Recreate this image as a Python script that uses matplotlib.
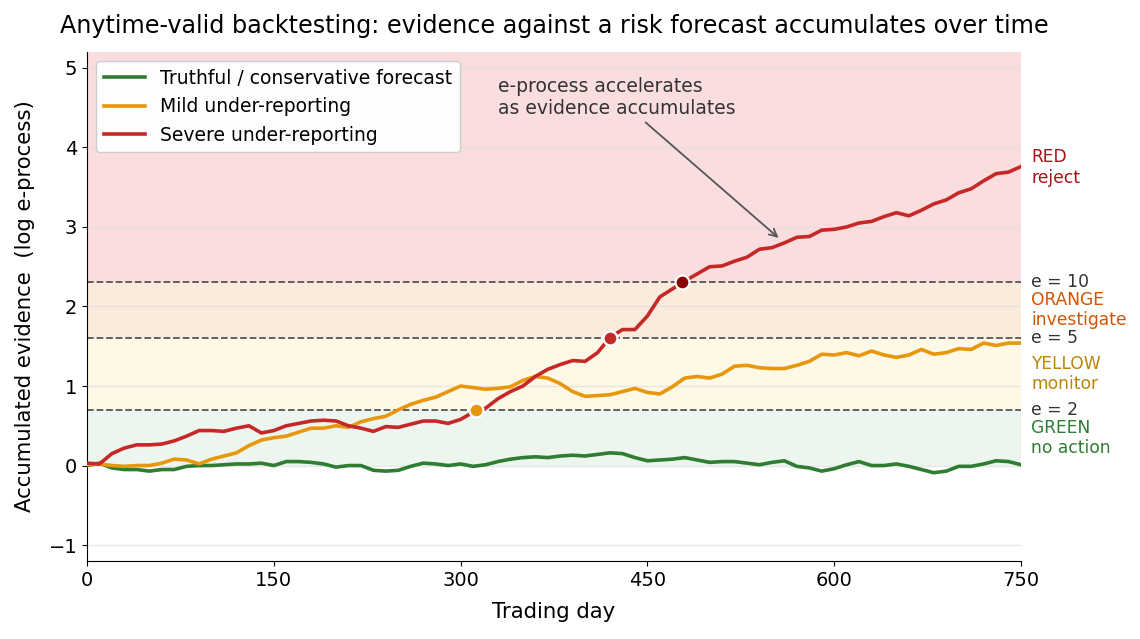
import numpy as np
import matplotlib.pyplot as plt

days = list(range(0, 751, 10))

truthful = [
    0.00, 0.03, -0.03, -0.05, -0.05, -0.07, -0.05, -0.05, -0.01, 0.00,
    0.00, 0.01, 0.02, 0.02, 0.03, 0.00, 0.05, 0.05, 0.04, 0.02,
    -0.02, 0.00, 0.00, -0.06, -0.07, -0.06, -0.01, 0.03, 0.02, 0.00,
    0.02, -0.01, 0.01, 0.05, 0.08, 0.10, 0.11, 0.10, 0.12, 0.13,
    0.12, 0.14, 0.16, 0.15, 0.10, 0.06, 0.07, 0.08, 0.10, 0.07,
    0.04, 0.05, 0.05, 0.03, 0.01, 0.04, 0.06, -0.01, -0.03, -0.07,
    -0.04, 0.01, 0.05, 0.00, 0.00, 0.02, -0.01, -0.05, -0.09, -0.07,
    -0.01, -0.01, 0.02, 0.06, 0.05, 0.01,
]

mild = [
    0.01, 0.02, 0.00, -0.01, 0.00, 0.00, 0.03, 0.08, 0.07, 0.02,
    0.08, 0.12, 0.16, 0.25, 0.32, 0.35, 0.37, 0.42, 0.47, 0.47,
    0.50, 0.48, 0.55, 0.59, 0.62, 0.70, 0.77, 0.82, 0.86, 0.93,
    1.00, 0.98, 0.96, 0.97, 0.99, 1.07, 1.12, 1.10, 1.03, 0.93,
    0.87, 0.88, 0.89, 0.93, 0.97, 0.92, 0.90, 0.99, 1.10, 1.12,
    1.10, 1.15, 1.25, 1.26, 1.23, 1.22, 1.22, 1.26, 1.31, 1.40,
    1.39, 1.42, 1.38, 1.44, 1.39, 1.36, 1.39, 1.46, 1.40, 1.42,
    1.47, 1.46, 1.54, 1.51, 1.54, 1.54,
]

severe = [
    0.03, 0.02, 0.15, 0.22, 0.26, 0.26, 0.27, 0.31, 0.37, 0.44,
    0.44, 0.43, 0.47, 0.50, 0.41, 0.44, 0.50, 0.53, 0.56, 0.57,
    0.56, 0.50, 0.47, 0.43, 0.49, 0.48, 0.52, 0.56, 0.56, 0.53,
    0.58, 0.67, 0.72, 0.84, 0.93, 1.00, 1.12, 1.21, 1.27, 1.32,
    1.31, 1.42, 1.61, 1.71, 1.71, 1.88, 2.12, 2.22, 2.32, 2.41,
    2.50, 2.51, 2.57, 2.62, 2.72, 2.74, 2.80, 2.87, 2.88, 2.96,
    2.97, 3.00, 3.05, 3.07, 3.13, 3.18, 3.14, 3.21, 3.29, 3.34,
    3.43, 3.48, 3.58, 3.67, 3.69, 3.76,
]

# e-value thresholds and the day the severe series first crossed each one
thresholds = [2, 5, 10]
crossing_days = [312, 420, 478]

series_labels = [
    "Truthful / conservative forecast",
    "Mild under-reporting",
    "Severe under-reporting",
]
series_colors = ["#2e7d32", "#e8960c", "#c62828"]
marker_colors = ["#e8960c", "#c62828", "#8b0000"]

zone_names = ["GREEN\nno action", "YELLOW\nmonitor", "ORANGE\ninvestigate", "RED\nreject"]
zone_fill = ["#edf6ee", "#fef8e6", "#fbebdd", "#fadedf"]
zone_text = ["#2e7d32", "#b8860b", "#d35400", "#a31515"]

y_lo, y_hi = -1.2, 5.2

fig = plt.figure(figsize=(11.4, 6.39), dpi=100)
ax = fig.add_axes([0.0763, 0.1221, 0.8193, 0.7965])

log_t = [np.log(t) for t in thresholds]
edges = [0.0] + log_t + [y_hi]
for i in range(4):
    ax.axhspan(edges[i], edges[i + 1], color=zone_fill[i], zorder=0, lw=0)
    ax.text(1.011, (edges[i] + edges[i + 1]) / 2, zone_names[i],
            transform=ax.get_yaxis_transform(), color=zone_text[i],
            fontsize=12.3, va="center", ha="left")

for t, lt in zip(thresholds, log_t):
    ax.axhline(lt, color="#555555", ls="--", lw=1.3, zorder=2)
    ax.text(1.011, lt, f"e = {t}", transform=ax.get_yaxis_transform(),
            color="#333333", fontsize=12.3, va="center", ha="left")

for vals, lab, col in zip([truthful, mild, severe], series_labels, series_colors):
    ax.plot(days, vals, color=col, lw=2.6, label=lab, zorder=3)

for d, lt, col in zip(crossing_days, log_t, marker_colors):
    ax.plot(d, lt, "o", ms=10, color=col, mec="white", mew=1.6, zorder=5)

ax.annotate("e-process accelerates\nas evidence accumulates",
            xy=(557, 2.84), xytext=(330, 4.63), ha="left", va="center",
            fontsize=13.5, color="#333333",
            arrowprops=dict(arrowstyle="->", color="#555555", lw=1.3))

ax.set_xlim(0, 750)
ax.set_ylim(y_lo, y_hi)
ax.set_xticks([0, 150, 300, 450, 600, 750])
ax.set_yticks([-1, 0, 1, 2, 3, 4, 5])
ax.set_yticklabels(["\u22121", "0", "1", "2", "3", "4", "5"])
ax.tick_params(labelsize=14)
ax.yaxis.grid(True, color="#dddddd", lw=1, alpha=0.7)
ax.set_axisbelow(True)
for s in ["top", "right"]:
    ax.spines[s].set_visible(False)

ax.set_xlabel("Trading day", fontsize=15.3, labelpad=9)
ax.set_ylabel("Accumulated evidence  (log e-process)", fontsize=15.3, labelpad=10)
ax.set_title("Anytime-valid backtesting: evidence against a risk forecast accumulates over time",
             fontsize=17.2, pad=14)

ax.legend(loc="upper left", fontsize=13.5, framealpha=0.95, handlelength=2.2)

fig.savefig("out.png", dpi=100)
